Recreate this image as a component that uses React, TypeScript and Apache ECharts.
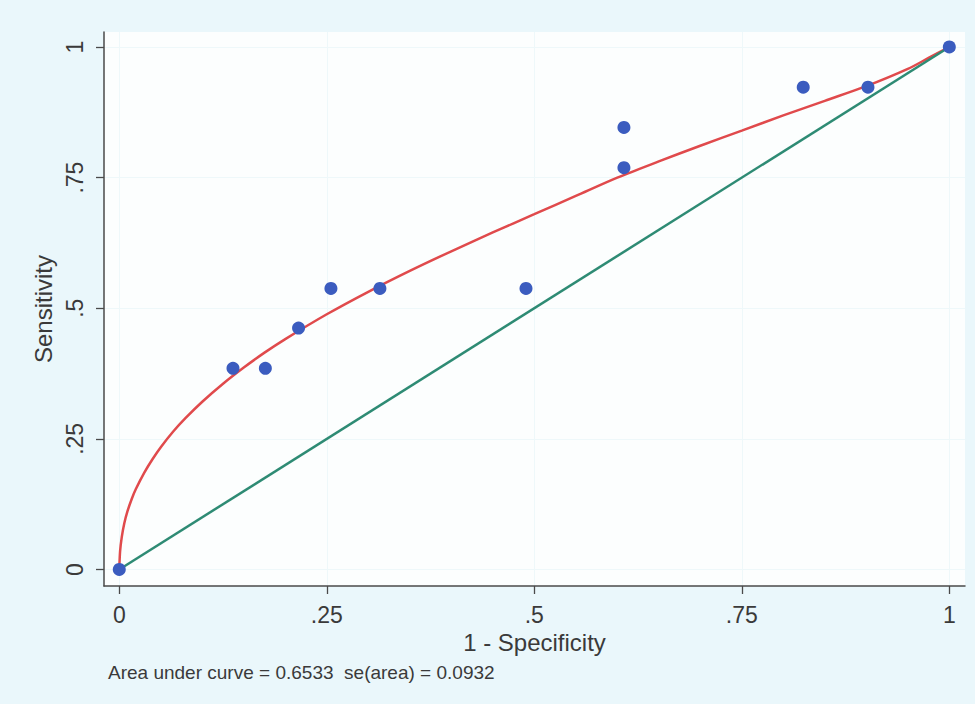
import React, { useEffect, useRef } from "react";
import * as echarts from "echarts";

// Observed operating points (1 - specificity, sensitivity)
const pointX = [0, 0.137, 0.176, 0.216, 0.255, 0.314, 0.49, 0.608, 0.608, 0.824, 0.902, 1];
const pointY = [0, 0.385, 0.385, 0.462, 0.538, 0.538, 0.538, 0.769, 0.846, 0.923, 0.923, 1];

// Fitted ROC curve
const curveX = [0, 0.001, 0.003, 0.006, 0.01, 0.015, 0.02, 0.03, 0.04, 0.05, 0.065, 0.08, 0.1, 0.125, 0.15, 0.175, 0.2, 0.25, 0.3, 0.35, 0.4, 0.45, 0.5, 0.55, 0.6, 0.65, 0.7, 0.75, 0.8, 0.85, 0.9, 0.95, 0.975, 1];
const curveY = [0, 0.035, 0.062, 0.088, 0.112, 0.135, 0.154, 0.185, 0.211, 0.234, 0.264, 0.29, 0.321, 0.3555, 0.3865, 0.415, 0.441, 0.4885, 0.5315, 0.5715, 0.609, 0.645, 0.68, 0.715, 0.75, 0.781, 0.811, 0.84, 0.869, 0.897, 0.925, 0.958, 0.979, 1];

// Reference (chance) line
const refX = [0, 1];
const refY = [0, 1];

const tickValues = [0, 0.25, 0.5, 0.75, 1];
const tickLabels = ["0", ".25", ".5", ".75", "1"];

const xTitle = "1 - Specificity";
const yTitle = "Sensitivity";
const note = "Area under curve = 0.6533  se(area) = 0.0932";

const FONT = "'Liberation Sans', Arial, Helvetica, sans-serif";

const fmt = (v: number) => {
  const i = tickValues.findIndex((t) => Math.abs(t - v) < 1e-6);
  return i >= 0 ? tickLabels[i] : "";
};

export default function App() {
  const ref = useRef<HTMLDivElement>(null);
  useEffect(() => {
    if (!ref.current) return;
    const chart = echarts.init(ref.current, null, { renderer: "svg" });
    const axisCommon = {
      type: "value" as const,
      nameLocation: "middle" as const,
      nameTextStyle: { fontFamily: FONT, fontSize: 24, color: "#3a3a3a" },
      axisLine: { show: true, onZero: false, lineStyle: { color: "#4a4a4a", width: 1.5 } },
      axisTick: { show: true, inside: false, length: 8, customValues: tickValues, lineStyle: { color: "#4a4a4a", width: 1.3 } },
      axisLabel: {
        customValues: tickValues,
        formatter: fmt,
        fontFamily: FONT,
        fontSize: 23,
        color: "#3a3a3a",
      },
      splitLine: { show: true, lineStyle: { color: "#eef8fa", width: 1 } },
    };
    chart.setOption({
      animation: false,
      backgroundColor: "#eaf7fb",
      title: {
        text: note,
        left: 103,
        top: 658,
        textStyle: { fontFamily: FONT, fontSize: 19, fontWeight: "normal", color: "#3a3a3a" },
      },
      grid: {
        left: 104,
        right: 10,
        top: 32,
        bottom: 118,
        show: true,
        backgroundColor: "#fcfefe",
        borderWidth: 0,
      },
      xAxis: {
        ...axisCommon,
        min: -0.0184,
        max: 1.0189,
        name: xTitle,
        nameGap: 40,
        axisLabel: { ...axisCommon.axisLabel, margin: 17 },
      },
      yAxis: {
        ...axisCommon,
        min: -0.0316,
        max: 1.0287,
        name: yTitle,
        nameRotate: 90,
        nameGap: 43,
        axisLabel: { ...axisCommon.axisLabel, margin: 18, rotate: 90 },
      },
      series: [
        {
          type: "line",
          data: curveX.map((x, i) => [x, curveY[i]]),
          smooth: 0.3,
          showSymbol: false,
          lineStyle: { color: "#e04a4c", width: 2.5 },
          z: 2,
        },
        {
          type: "line",
          data: refX.map((x, i) => [x, refY[i]]),
          showSymbol: false,
          lineStyle: { color: "#2e8b74", width: 2.5 },
          z: 3,
        },
        {
          type: "scatter",
          data: pointX.map((x, i) => [x, pointY[i]]),
          symbolSize: 13,
          itemStyle: { color: "#3b5cbf", opacity: 1 },
          z: 4,
        },
      ],
    });
    return () => chart.dispose();
  }, []);
  return (
    <div
      ref={ref}
      style={{ position: "fixed", left: 0, top: 0, width: 975, height: 704 }}
    />
  );
}
